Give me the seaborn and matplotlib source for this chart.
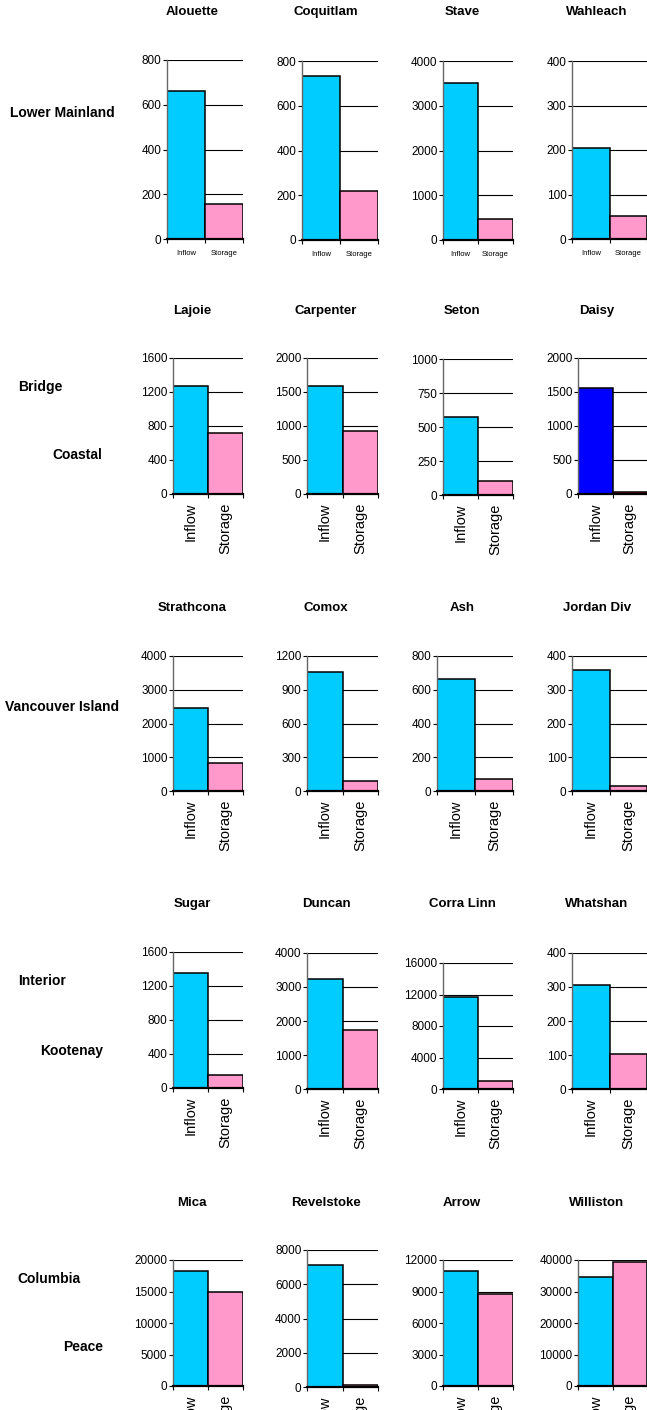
import numpy as np
import seaborn as sns
import matplotlib.pyplot as plt
from matplotlib.ticker import FixedLocator


# data (row by row, left to right)
categories = ["Inflow", "Storage"]
reservoirs = ["Alouette", "Coquitlam", "Stave", "Wahleach",
              "Lajoie", "Carpenter", "Seton", "Daisy",
              "Strathcona", "Comox", "Ash", "Jordan Div",
              "Sugar", "Duncan", "Corra Linn", "Whatshan",
              "Mica", "Revelstoke", "Arrow", "Williston"]
inflow = [660, 735, 3510, 205,
          1270, 1590, 571, 1560,
          2450, 1060, 664, 359,
          1353, 3250, 11640, 305,
          18300, 7140, 11000, 34700]
storage = [155, 220, 460, 52,
           721, 926, 103, 30,
           820, 92, 73, 15,
           150, 1725, 980, 103,
           14950, 120, 8750, 39400]
y_max = [800, 800, 4000, 400,
         1600, 2000, 1000, 2000,
         4000, 1200, 800, 400,
         1600, 4000, 16000, 400,
         20000, 8000, 12000, 40000]
y_step = [200, 200, 1000, 100,
          400, 500, 250, 500,
          1000, 300, 200, 100,
          400, 1000, 4000, 100,
          5000, 2000, 3000, 10000]
region_labels = ["Lower Mainland", "Bridge", "Coastal", "Vancouver Island",
                 "Interior", "Kootenay", "Columbia", "Peace"]

# colours
normal_colors = ["#00CCFF", "#FF99CC"]
daisy_colors = ["#0000FF", "#FF0000"]

# layout in pixels (figure is 647 x 1410)
W, H = 647, 1410
ax_left = [167, 302, 443, 572,
           173, 307, 443, 578,
           173, 307, 437, 572,
           173, 307, 443, 572,
           173, 307, 443, 578]
ax_top = [60, 61, 61, 61,
          358, 358, 359, 358,
          656, 656, 656, 656,
          952, 953, 963, 953,
          1260, 1250, 1260, 1260]
ax_bottom = [239, 240, 240, 239,
             494, 494, 495, 494,
             791, 791, 791, 791,
             1088, 1089, 1089, 1089,
             1386, 1387, 1386, 1386]
col_right = [243, 378, 513, 647]
title_x = [192, 326, 462, 597]
title_y = [12, 311, 608, 904, 1203]
label_pos = [(62, 113), (40, 387), (77, 455), (62, 707),
             (42, 981), (72, 1051), (49, 1279), (83, 1347)]

sns.set_style("white")
plt.rcParams['font.family'] = ['Liberation Sans', 'DejaVu Sans']
plt.rcParams['text.color'] = 'black'
plt.rcParams['xtick.color'] = 'black'
plt.rcParams['ytick.color'] = 'black'

fig = plt.figure(figsize=(W / 100, H / 100), dpi=100)

for i, name in enumerate(reservoirs):
    row, col = divmod(i, 4)
    left = ax_left[i] / W
    width = (col_right[col] - ax_left[i]) / W
    bottom = 1 - ax_bottom[i] / H
    height = (ax_bottom[i] - ax_top[i]) / H
    ax = fig.add_axes([left, bottom, width, height])

    colors = daisy_colors if name == "Daisy" else normal_colors
    sns.barplot(x=categories, y=[inflow[i], storage[i]], hue=categories,
                palette=colors, legend=False, width=1.0,
                edgecolor="black", linewidth=1.1, saturation=1, ax=ax)

    ax.set_xlim(-0.5, 1.5)
    ax.set_ylim(0, y_max[i])
    ax.set_yticks(np.arange(0, y_max[i] + 1, y_step[i]))
    ax.set_axisbelow(True)
    ax.yaxis.grid(True, color="black", linewidth=0.8)
    ax.xaxis.grid(False)
    ax.set_xlabel("")
    ax.set_ylabel("")

    for s in ["top", "right"]:
        ax.spines[s].set_visible(False)
    ax.spines["left"].set_color("#666666")
    ax.spines["left"].set_linewidth(1.0)
    ax.spines["bottom"].set_color("black")
    ax.spines["bottom"].set_linewidth(1.6)

    ax.tick_params(axis="y", direction="out", length=3, width=0.8,
                   pad=1, labelsize=8.5, left=True)
    ax.xaxis.set_minor_locator(FixedLocator([-0.5, 0.5, 1.5]))
    ax.tick_params(axis="x", which="minor", direction="out", length=3,
                   width=0.8, bottom=True)
    if row == 0:
        ax.tick_params(axis="x", which="major", length=0, pad=8, labelsize=5.5)
    else:
        ax.tick_params(axis="x", which="major", length=0, pad=6,
                       labelsize=10.5, labelrotation=90)

    fig.text(title_x[col] / W, 1 - title_y[row] / H, name,
             ha="center", va="center", fontsize=9.5, fontweight="bold")

for text, (x, y) in zip(region_labels, label_pos):
    fig.text(x / W, 1 - y / H, text, ha="center", va="center",
             fontsize=10, fontweight="bold")

fig.savefig("out.png", dpi=100, facecolor="white")
